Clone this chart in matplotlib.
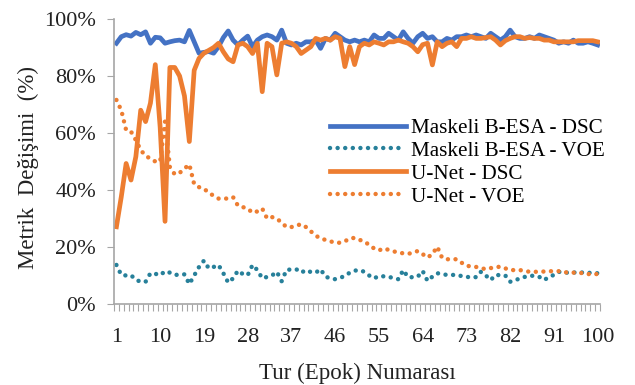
#importing the libraries which will be used.
import numpy as np
import matplotlib
matplotlib.use("Agg")
import matplotlib.pyplot as plt

# epoch numbers (1..100) and the four metric series, in percent
epochs = list(range(1, 101))

besa_dsc = [91.5, 93.8, 94.5, 94.0, 95.3, 94.5, 95.5, 91.5, 93.6, 93.4,
            91.5, 92.0, 92.4, 92.6, 92.0, 96.0, 92.0, 88.0, 88.3, 88.6,
            88.0, 90.3, 93.5, 95.8, 92.6, 90.9, 92.6, 94.0, 90.3, 92.6,
            93.8, 94.4, 93.8, 92.6, 96.1, 91.5, 90.9, 91.5, 90.9, 92.0,
            92.0, 92.6, 89.7, 93.2, 92.6, 95.0, 93.8, 92.6, 92.0, 92.6,
            92.0, 92.6, 92.0, 94.4, 93.2, 93.2, 95.0, 93.8, 92.6, 95.5,
            93.2, 91.5, 93.8, 95.0, 93.2, 93.8, 92.0, 92.0, 93.2, 92.6,
            93.8, 93.8, 94.4, 93.8, 94.4, 93.8, 93.2, 95.0, 93.8, 92.6,
            93.8, 96.1, 93.8, 93.2, 93.2, 93.8, 93.2, 94.4, 93.8, 93.2,
            92.6, 91.5, 92.0, 91.5, 92.6, 91.5, 91.5, 92.0, 91.5, 90.9]

besa_voe = [13.7, 10.2, 10.0, 10.1, 8.5, 7.8, 7.8, 10.8, 10.6, 10.1,
            11.5, 11.0, 10.2, 10.3, 10.4, 7.0, 10.0, 13.0, 15.2, 12.5,
            13.0, 13.7, 10.8, 7.5, 9.0, 11.7, 10.5, 10.1, 13.7, 11.9,
            9.0, 9.5, 10.0, 11.3, 8.0, 12.0, 12.1, 12.2, 11.0, 11.9,
            11.2, 11.0, 12.2, 9.6, 9.0, 8.7, 9.2, 9.8, 11.0, 11.7,
            11.9, 11.3, 10.0, 9.0, 9.8, 9.7, 9.6, 9.0, 8.7, 11.9,
            9.4, 9.4, 9.6, 11.6, 8.1, 9.6, 10.8, 10.5, 10.2, 10.2,
            10.2, 9.8, 9.4, 9.6, 9.4, 11.3, 10.0, 8.4, 10.2, 10.1,
            10.0, 7.8, 8.5, 8.8, 9.5, 9.9, 9.9, 9.5, 8.4, 9.5,
            10.2, 11.3, 11.0, 11.0, 11.0, 11.2, 11.0, 11.0, 10.8, 10.8]

unet_dsc = [27.1, 37.6, 49.3, 43.5, 51.7, 68.0, 64.0, 70.5, 84.0, 62.0,
            29.0, 83.0, 83.0, 80.0, 73.0, 57.0, 82.0, 86.2, 88.0, 89.0,
            90.0, 91.5, 88.5, 86.0, 85.0, 90.9, 91.5, 90.3, 87.9, 91.5,
            74.5, 91.5, 90.3, 80.4, 91.5, 92.0, 91.5, 90.3, 87.9, 89.1,
            90.3, 93.2, 92.6, 93.2, 92.6, 93.8, 93.2, 83.3, 90.3, 84.0,
            90.3, 91.5, 90.9, 92.0, 91.5, 90.9, 92.0, 92.0, 92.6, 92.0,
            91.5, 90.3, 88.5, 91.0, 91.5, 83.9, 92.0, 90.3, 91.5, 92.0,
            90.3, 93.2, 93.2, 93.8, 93.2, 93.2, 93.5, 93.8, 92.6, 90.9,
            92.4, 93.2, 93.8, 93.8, 93.2, 93.5, 93.2, 93.2, 92.6, 92.6,
            92.0, 92.0, 92.0, 92.0, 92.0, 92.4, 92.4, 92.4, 92.4, 92.0]

unet_voe = [71.6, 68.0, 61.0, 60.5, 57.5, 54.0, 52.0, 51.0, 50.0, 50.0,
            64.0, 48.0, 45.5, 46.0, 47.5, 49.0, 42.0, 41.0, 40.5, 39.0,
            38.0, 37.0, 37.0, 37.0, 37.5, 34.5, 34.0, 33.5, 32.0, 32.5,
            33.5, 30.0, 30.5, 30.0, 28.5, 27.0, 27.0, 27.5, 28.0, 27.0,
            25.5, 24.0, 23.0, 22.5, 22.0, 21.5, 21.5, 22.0, 23.0, 23.2,
            22.5, 22.0, 20.7, 19.5, 18.8, 19.5, 19.0, 18.5, 18.0, 17.8,
            17.6, 18.0, 18.6, 17.5, 16.3, 17.5, 20.1, 16.2, 15.7, 15.7,
            15.7, 14.5, 13.4, 13.2, 13.0, 12.6, 12.2, 12.6, 12.9, 13.1,
            12.5, 11.9, 11.9, 11.9, 11.6, 11.3, 11.3, 11.3, 11.4, 11.5,
            11.5, 11.5, 11.2, 11.0, 11.0, 11.0, 10.8, 10.5, 10.5, 10.5]

labels = ["Maskeli B-ESA - DSC", "Maskeli B-ESA - VOE", "U-Net - DSC", "U-Net - VOE"]
xtick_values = [1, 10, 19, 28, 37, 46, 55, 64, 73, 82, 91, 100]

plt.rcParams['font.family'] = ['Liberation Serif', 'DejaVu Serif']

#The below lines are what will plot the data.
fig = plt.figure(figsize=(6.35, 3.85), dpi=100)
ax = fig.add_axes([0.1795, 0.2104, 0.7655, 0.7402])

blue = "#4472C4"
teal = "#27809A"
orange = "#ED7D31"
dots = (0, (0.01, 1.7))

ax.plot(epochs, besa_dsc, color=blue, lw=3.4, label=labels[0])
ax.plot(epochs, besa_voe, color=teal, lw=3.2, linestyle=dots, dash_capstyle="round", label=labels[1])
ax.plot(epochs, unet_dsc, color=orange, lw=3.4, label=labels[2])
ax.plot(epochs, unet_voe, color=orange, lw=3.2, linestyle=dots, dash_capstyle="round", label=labels[3])

ax.set_xlim(0.5, 100.5)
ax.set_ylim(0, 100)

# category style ticks: small marks between categories, labels every 9 epochs
ax.set_xticks(xtick_values)
ax.set_xticks(np.arange(0.5, 101, 1), minor=True)
ax.tick_params(axis="x", which="major", length=0, pad=17, labelsize=16, labelcolor="#222222")
ax.tick_params(axis="x", which="minor", length=5, width=0.8, color="#A6A6A6", direction="out")

ax.set_yticks([0, 20, 40, 60, 80, 100])
ax.set_yticklabels(["0%", "20%", "40%", "60%", "80%", "100%"])
ax.tick_params(axis="y", length=5, width=0.8, color="#A6A6A6", pad=8, labelsize=16, labelcolor="#222222")

for side in ["top", "right"]:
    ax.spines[side].set_visible(False)
for side in ["left", "bottom"]:
    ax.spines[side].set_color("#A6A6A6")
    ax.spines[side].set_linewidth(1.2)

ax.set_xlabel("Tur (Epok) Numarası", fontsize=16.5, color="#222222", labelpad=12)
ax.set_ylabel("Metrik  Değişimi  (%)", fontsize=16.5, color="#222222")
ax.yaxis.set_label_coords(-0.155, 0.48)

ax.legend(loc="center left", bbox_to_anchor=(0.52, 0.578), bbox_transform=fig.transFigure,
          frameon=False, fontsize=15.2, handlelength=3.6, handletextpad=0.25,
          labelspacing=0.15, borderpad=0, borderaxespad=0)

fig.savefig("out.png", dpi=100)
